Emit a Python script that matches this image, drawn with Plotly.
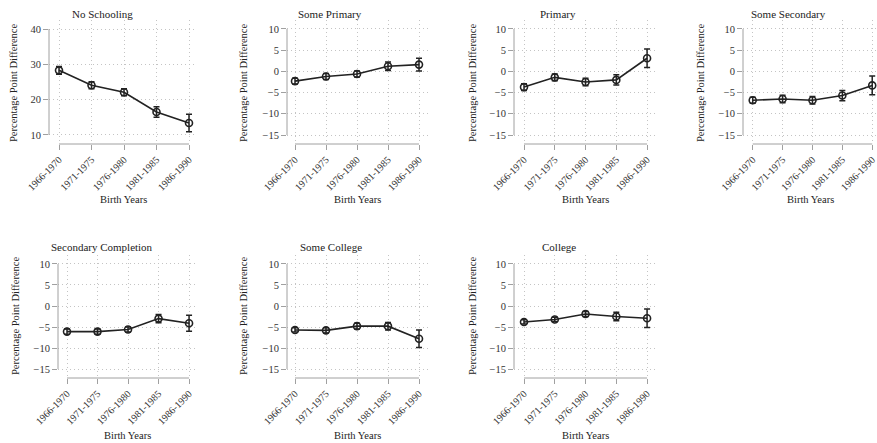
import plotly.graph_objects as go

# ---------------- data ----------------
categories = ["1966-1970", "1971-1975", "1976-1980", "1981-1985", "1986-1990"]

panel_titles = ["No Schooling", "Some Primary", "Primary", "Some Secondary",
                "Secondary Completion", "Some College", "College"]

no_schooling = [28.3, 24.1, 22.1, 16.5, 13.4]
no_schooling_err = [1.1, 1.0, 1.0, 1.5, 2.5]
some_primary = [-2.3, -1.2, -0.6, 1.2, 1.6]
some_primary_err = [0.7, 0.7, 0.7, 1.0, 1.5]
primary = [-3.7, -1.4, -2.5, -2.0, 3.1]
primary_err = [0.8, 0.8, 0.9, 1.2, 2.2]
some_secondary = [-6.8, -6.5, -6.8, -5.7, -3.3]
some_secondary_err = [0.7, 0.9, 0.9, 1.2, 2.2]
secondary_completion = [-6.1, -6.1, -5.6, -3.0, -4.1]
secondary_completion_err = [0.6, 0.6, 0.6, 1.0, 1.9]
some_college = [-5.7, -5.8, -4.8, -4.8, -7.8]
some_college_err = [0.5, 0.6, 0.7, 0.9, 2.1]
college = [-3.8, -3.2, -1.9, -2.5, -2.9]
college_err = [0.5, 0.5, 0.6, 1.0, 2.2]

series = [no_schooling, some_primary, primary, some_secondary,
          secondary_completion, some_college, college]
errors = [no_schooling_err, some_primary_err, primary_err, some_secondary_err,
          secondary_completion_err, some_college_err, college_err]

ticks_first = [10, 20, 30, 40]
ticks_other = [-15, -10, -5, 0, 5, 10]

# ---------------- layout geometry (pixels) ----------------
W, H = 877, 443
FONT = "Liberation Serif"
INK = "#222222"
AXC = "#a0a0a0"
GRID = "#c4c4c4"

# (x_left, x_right, row, xrange, title_center_x, ytitle_x)
panels = [
    (49, 197, 0, (-0.308, 4.246), 102, 13),
    (287, 428, 0, (-0.258, 4.29), 330, 243),
    (514, 656, 0, (-0.325, 4.29), 558, 472),
    (743, 877, 0, (-0.325, 4.16), 788, 700),
    (58, 197, 1, (-0.295, 4.26), 102, 15),
    (287, 428, 1, (-0.258, 4.29), 331, 243),
    (514, 656, 1, (-0.325, 4.29), 559, 472),
]
rows = [
    dict(top=20, bot=144, title_y=14, xtitle_y=200, ycenter=83),
    dict(top=255, bot=378, title_y=247, xtitle_y=435, ycenter=316),
]


def px(p):
    return p / W


def py(p):
    return 1 - p / H


fig = go.Figure()
annotations = []
shapes = []

for i, (xl, xr, r, xrange, tcx, ytx) in enumerate(panels):
    n = "" if i == 0 else str(i + 1)
    row = rows[r]
    ticks = ticks_first if i == 0 else ticks_other
    yrange = (7.45, 42.55) if i == 0 else ((-17.12, 12.12) if r == 0 else (-17.14, 12.14))

    fig.add_trace(go.Scatter(
        x=categories, y=series[i], xaxis="x" + n, yaxis="y" + n,
        mode="lines+markers",
        line=dict(color=INK, width=1.6),
        marker=dict(symbol="circle-open", size=7, color=INK, line=dict(width=1.6, color=INK)),
        error_y=dict(type="data", array=errors[i], color=INK, thickness=1.5, width=3),
        showlegend=False,
    ))

    fig.layout["xaxis" + n] = dict(
        domain=[px(xl), px(xr)], anchor="y" + n, type="category", automargin=False,
        range=list(xrange), showgrid=True, gridcolor=GRID, griddash="1px,3px", gridwidth=1,
        zeroline=False, showline=False,
        ticks="outside", ticklen=5, tickcolor=AXC, tickwidth=1,
        tickangle=-45, tickfont=dict(family=FONT, size=10, color="#333"),
    )
    fig.layout["yaxis" + n] = dict(
        domain=[py(row["bot"]), py(row["top"])], anchor="x" + n, automargin=False,
        range=list(yrange), tickvals=ticks,
        ticktext=[("\u2212" + str(-t)) if t < 0 else str(t) for t in ticks],
        showgrid=True, gridcolor=GRID, griddash="1px,3px", gridwidth=1,
        zeroline=False, showline=False,
        ticks="outside", ticklen=5, tickcolor=AXC, tickwidth=1,
        tickfont=dict(family=FONT, size=10.5, color="#333"),
    )

    # axis lines spanning only the data range (Stata style)
    shapes.append(dict(type="line", xref="x" + n + " domain", yref="y" + n,
                       x0=0, x1=0, y0=ticks[0], y1=ticks[-1],
                       line=dict(color=AXC, width=1)))
    shapes.append(dict(type="line", xref="x" + n, yref="y" + n + " domain",
                       x0=categories[0], x1=categories[-1], y0=0, y1=0,
                       line=dict(color=AXC, width=1)))

    # panel title
    annotations.append(dict(text=panel_titles[i], x=px(tcx), y=py(row["title_y"]),
                            xref="paper", yref="paper", showarrow=False,
                            xanchor="center", yanchor="middle",
                            font=dict(family=FONT, size=11, color=INK)))
    # y title
    annotations.append(dict(text="Percentage Point Difference", x=px(ytx), y=py(row["ycenter"]),
                            xref="paper", yref="paper", showarrow=False, textangle=-90,
                            xanchor="center", yanchor="middle",
                            font=dict(family=FONT, size=10.5, color=INK)))
    # x title
    annotations.append(dict(text="Birth Years", x=px((xl + xr) / 2), y=py(row["xtitle_y"]),
                            xref="paper", yref="paper", showarrow=False,
                            xanchor="center", yanchor="middle",
                            font=dict(family=FONT, size=10.5, color=INK)))

fig.update_layout(
    template="none",
    width=W, height=H,
    margin=dict(l=0, r=0, t=0, b=0, pad=0),
    paper_bgcolor="white", plot_bgcolor="white",
    annotations=annotations, shapes=shapes,
    font=dict(family=FONT),
    showlegend=False,
)

fig.write_html("out.html")
